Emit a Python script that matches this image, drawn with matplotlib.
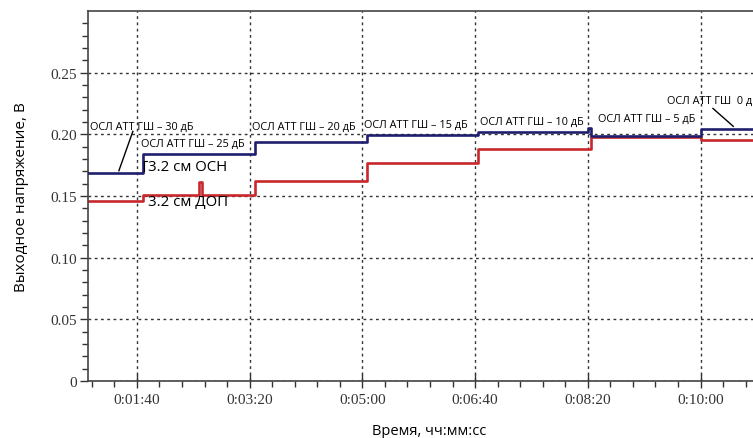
import matplotlib
matplotlib.use("Agg")
import matplotlib.pyplot as plt
from matplotlib.ticker import FixedLocator, MultipleLocator, FuncFormatter

# Данные: моменты переключения (с) и уровни напряжения (В)
osn_t = [56.6, 105.0, 205.0, 304.0, 402.6, 500.5, 502.5, 600.0, 662.0]
osn_v = [0.1683, 0.1837, 0.1936, 0.1998, 0.2017, 0.2050, 0.1990, 0.2043, 0.2043]

dop_t = [56.6, 105.0, 155.5, 158.0, 205.0, 304.0, 402.6, 502.5, 600.0, 662.0]
dop_v = [0.1456, 0.1505, 0.1612, 0.1505, 0.1618, 0.1764, 0.1885, 0.1978, 0.1958, 0.1958]

x_major = [100, 200, 300, 400, 500, 600]
y_major = [0, 0.05, 0.10, 0.15, 0.20, 0.25]
y_labels = ['0', '0.05', '0.10', '0.15', '0.20', '0.25']

att_labels = ['ОСЛ АТТ ГШ – 30 дБ', 'ОСЛ АТТ ГШ – 25 дБ', 'ОСЛ АТТ ГШ – 20 дБ',
              'ОСЛ АТТ ГШ – 15 дБ', 'ОСЛ АТТ ГШ – 10 дБ', 'ОСЛ АТТ ГШ – 5 дБ',
              'ОСЛ АТТ ГШ  0 дБ']
att_x = [58.3, 103.5, 202.0, 301.0, 404.3, 509.0, 570.0]
att_y = [0.2067, 0.1927, 0.2065, 0.2084, 0.2106, 0.2130, 0.2279]

SANS = ['Open Sans', 'DejaVu Sans']
SERIF = ['Liberation Serif', 'DejaVu Serif']


def hms(x, pos):
    s = int(round(x))
    return f"{s // 3600}:{(s % 3600) // 60:02d}:{s % 60:02d}"


fig = plt.figure(figsize=(7.53, 4.39), dpi=100)
ax = fig.add_axes([88 / 753, 57 / 439, 682 / 753, 370 / 439])

ax.plot(osn_t, osn_v, drawstyle='steps-post', color='#1f1f6e', lw=1.9, zorder=3)
ax.plot(dop_t, dop_v, drawstyle='steps-post', color='#c8282c', lw=1.9, zorder=2)

ax.set_xlim(56.6, 661.6)
ax.set_ylim(0, 0.30)

ax.xaxis.set_major_locator(FixedLocator(x_major))
ax.xaxis.set_minor_locator(MultipleLocator(20))
ax.xaxis.set_major_formatter(FuncFormatter(hms))
ax.set_yticks(y_major)
ax.set_yticklabels(y_labels)
ax.yaxis.set_minor_locator(FixedLocator([i / 100 for i in range(1, 30)]))

ax.tick_params(axis='x', which='major', direction='inout', length=10, width=1,
               color='#333333', labelsize=11, pad=4)
ax.tick_params(axis='x', which='minor', direction='out', length=4, width=1,
               color='#333333')
ax.tick_params(axis='y', which='major', direction='out', length=6, width=1,
               color='#333333', labelsize=11, pad=2)
ax.tick_params(axis='y', which='minor', direction='out', length=4, width=1,
               color='#333333')
for lab in ax.get_xticklabels() + ax.get_yticklabels():
    lab.set_family(SERIF)
    lab.set_color('#333333')

ax.grid(True, which='major', color='#333333', linestyle=(0, (2, 2.5)), lw=1.0)
for side in ['left', 'bottom', 'top']:
    ax.spines[side].set_color('#444444')
    ax.spines[side].set_linewidth(1.2)
ax.spines['right'].set_visible(False)

ax.set_xlabel('Время, чч:мм:сс', family=SANS, fontsize=10.5, labelpad=12)
ax.set_ylabel('Выходное напряжение, В', family=SANS, fontsize=11, labelpad=15)

# Подписи ступеней аттенюатора
for txt, tx, ty in zip(att_labels, att_x, att_y):
    ax.text(tx, ty, txt, family=SANS, fontsize=7.8, ha='left', va='center',
            clip_on=False, zorder=4)

ax.text(109.7, 0.174, '3.2 см ОСН', family=SANS, fontsize=10.8, ha='left', va='center')
ax.text(109.7, 0.1455, '3.2 см ДОП', family=SANS, fontsize=10.8, ha='left', va='center')

# Выноски
ax.plot([84, 96.4], [0.1705, 0.2024], color='black', lw=1, zorder=4)
ax.plot([611, 629], [0.221, 0.2065], color='black', lw=1, zorder=4)
ax.plot([106.5, 106.5, 109], [0.1705, 0.178, 0.178], color='black', lw=0.8, zorder=4)

fig.savefig('out.png', dpi=100)
